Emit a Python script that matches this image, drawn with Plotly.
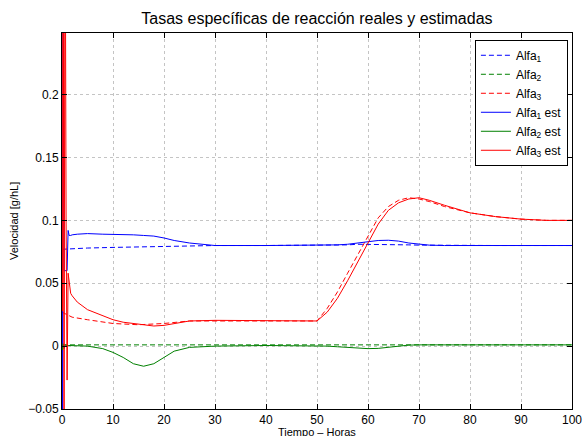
import plotly.graph_objects as go

# ---- data ----
t_real = [0, 2, 5, 10, 15, 20, 25, 30, 40, 50, 52, 54, 56, 58, 60, 62, 64, 66, 68, 70,
          72, 75, 80, 85, 90, 95, 100]
alfa1_real = [0.077, 0.0775, 0.078, 0.0785, 0.079, 0.0795, 0.0798, 0.080, 0.080, 0.080, 0.080,
              0.0802, 0.0805, 0.081, 0.081, 0.081, 0.081, 0.0808, 0.0805, 0.0803,
              0.0802, 0.080, 0.080, 0.080, 0.080, 0.080, 0.080]
alfa2_real = [0.001] * len(t_real)
alfa3_real = [0.027, 0.023, 0.021, 0.018, 0.017, 0.018, 0.020, 0.020, 0.020, 0.020, 0.030,
              0.043, 0.058, 0.073, 0.088, 0.102, 0.111, 0.116, 0.118, 0.117,
              0.115, 0.111, 0.106, 0.103, 0.101, 0.100, 0.100]

t_est = [0, 0.1, 0.2, 0.4, 0.6, 0.8, 1.0, 1.2, 1.4, 1.7, 2, 3, 5, 8, 10, 12, 14, 16, 18, 20, 22,
         25, 30, 40, 50, 52, 54, 56, 58, 60, 62, 64, 66, 68, 70, 72, 75, 80, 85, 90, 95, 100]
alfa1_est = [0.080, -0.10, 0.30, 0.060, 0.060, 0.060, 0.060, 0.092, 0.088, 0.088, 0.0885,
             0.089, 0.0895, 0.089, 0.089, 0.0888, 0.0885, 0.088, 0.0875, 0.086, 0.084, 0.082,
             0.080, 0.080, 0.080, 0.0802, 0.0805, 0.081, 0.082, 0.083, 0.084, 0.0842, 0.0835,
             0.082, 0.081, 0.0803, 0.080, 0.080, 0.080, 0.080, 0.080, 0.080]
alfa2_est = [0.0, -0.003, 0.002, -0.002, 0.001, 0.0005, 0.0005, 0.0005, 0.0005, 0.0005, 0.0005,
             0.0004, 0.0, -0.002, -0.005, -0.009, -0.014, -0.016, -0.014, -0.009, -0.004,
             -0.001, 0.0, 0.0005, 0.0005, 0.0, -0.0005, -0.001, -0.0015, -0.002, -0.0018,
             -0.001, 0.0, 0.0008, 0.001, 0.001, 0.001, 0.001, 0.001, 0.001, 0.001, 0.001]
alfa3_est = [0.028, 0.028, 0.50, -0.10, 0.40, 0.10, -0.027, 0.058, 0.050, 0.042, 0.040,
             0.035, 0.029, 0.024, 0.021, 0.019, 0.018, 0.017, 0.016, 0.0165, 0.018, 0.020,
             0.0205, 0.020, 0.020, 0.027, 0.038, 0.052, 0.067, 0.082, 0.097, 0.108, 0.114,
             0.117, 0.118, 0.116, 0.112, 0.106, 0.103, 0.101, 0.100, 0.100]

x_ticks = [0, 10, 20, 30, 40, 50, 60, 70, 80, 90, 100]
y_ticks = [-0.05, 0, 0.05, 0.1, 0.15, 0.2]
y_tick_labels = ["\u22120.05", "0", "0.05", "0.1", "0.15", "0.2"]

BLUE, GREEN, RED = "#0000ff", "#008000", "#ff0000"
DASH = "5px,3px"

fig = go.Figure()
fig.add_trace(go.Scatter(x=t_real, y=alfa1_real, mode="lines", name="Alfa<sub>1</sub>",
                         line=dict(color=BLUE, width=1, dash=DASH)))
fig.add_trace(go.Scatter(x=t_real, y=alfa2_real, mode="lines", name="Alfa<sub>2</sub>",
                         line=dict(color=GREEN, width=1, dash=DASH)))
fig.add_trace(go.Scatter(x=t_real, y=alfa3_real, mode="lines", name="Alfa<sub>3</sub>",
                         line=dict(color=RED, width=1, dash=DASH)))
fig.add_trace(go.Scatter(x=t_est, y=alfa1_est, mode="lines", name="Alfa<sub>1</sub> est",
                         line=dict(color=BLUE, width=1)))
fig.add_trace(go.Scatter(x=t_est, y=alfa2_est, mode="lines", name="Alfa<sub>2</sub> est",
                         line=dict(color=GREEN, width=1)))
fig.add_trace(go.Scatter(x=t_est, y=alfa3_est, mode="lines", name="Alfa<sub>3</sub> est",
                         line=dict(color=RED, width=1)))

axis_common = dict(showline=True, linecolor="black", linewidth=1, mirror="ticks",
                   ticks="inside", ticklen=5, tickcolor="black", automargin=False,
                   showgrid=True, gridcolor="#c4c4c4", griddash="dot", gridwidth=1,
                   zeroline=False, tickfont=dict(size=12, color="black"))

fig.update_layout(
    width=583, height=436,
    margin=dict(l=62, r=11, t=33, b=27, autoexpand=False),
    paper_bgcolor="white", plot_bgcolor="white",
    font=dict(family="Liberation Sans, Arial, sans-serif", color="black"),
    title=dict(text="Tasas específicas de reacción reales y estimadas",
               x=0.5436, xanchor="center", y=0.958, yanchor="middle",
               font=dict(size=16, color="black")),
    xaxis=dict(range=[0, 100], tickvals=x_ticks, **axis_common),
    yaxis=dict(range=[-0.05, 0.249], tickvals=y_ticks, ticktext=y_tick_labels,
               **axis_common),
    legend=dict(x=0.992, y=0.982, xanchor="right", yanchor="top",
                bgcolor="white", bordercolor="black", borderwidth=1,
                font=dict(size=12), tracegroupgap=0, itemwidth=30),
    showlegend=True,
    annotations=[
        dict(text="Tiempo \u2013 Horas", xref="paper", yref="paper", x=0.5, y=0,
             yshift=-15, xanchor="center", yanchor="top", showarrow=False,
             font=dict(size=11)),
        dict(text="Velocidad [g/hL]", xref="paper", yref="paper", x=0, y=0.5,
             xshift=-40, xanchor="right", yanchor="middle", showarrow=False,
             textangle=-90, font=dict(size=11)),
    ],
)

fig.write_html("out.html", config={"displayModeBar": False},
               post_script="document.body.style.margin='0';document.body.style.overflow='hidden';")
